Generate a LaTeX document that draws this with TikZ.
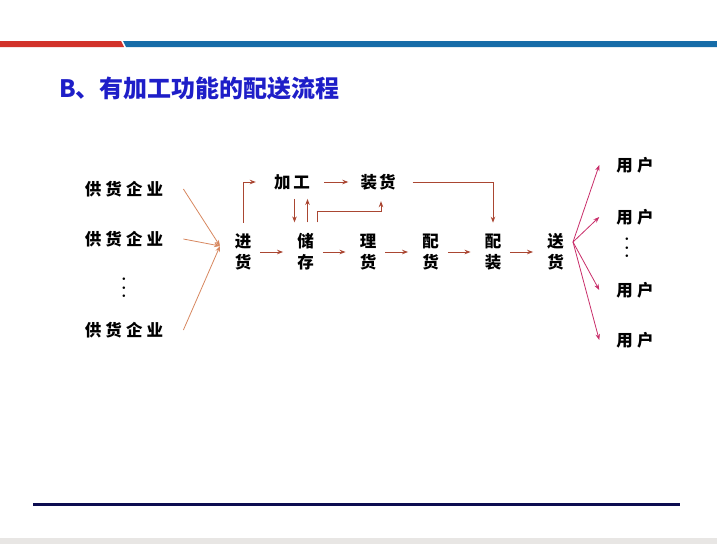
\documentclass[tikz,border=0pt]{standalone}
\usepackage{fontspec}
\usepackage{xcolor}
\usepackage{tikz}
\usetikzlibrary{arrows.meta, positioning}

\newfontfamily\cjk{Noto Sans CJK SC}
\newfontfamily\cjkwide[LetterSpace=25]{Noto Sans CJK SC}

\definecolor{barred}{RGB}{210,50,42}
\definecolor{barblue}{RGB}{22,108,168}
\definecolor{titleblue}{RGB}{30,30,200}
\definecolor{flowred}{RGB}{170,70,50}
\definecolor{inorange}{RGB}{215,135,95}
\definecolor{outpink}{RGB}{200,45,105}
\definecolor{footnavy}{RGB}{12,12,80}
\definecolor{footgray}{RGB}{232,230,228}

\begin{document}
\begin{tikzpicture}[x=1pt, y=-1pt, node distance=62.5pt]
        % Styles
        \tikzstyle{lbl} = [inner sep=2pt, align=center, font=\cjk\bfseries\fontsize{16.5}{21}\selectfont]
        \tikzstyle{wlbl} = [lbl, font=\cjkwide\bfseries\fontsize{16.5}{21}\selectfont]
        \tikzstyle{vdots} = [inner sep=0pt, align=center, font=\bfseries\fontsize{18}{8.5}\selectfont]
        \tikzstyle{arrow} = [-{Stealth[length=6pt,width=4.5pt]}, line width=0.9pt, draw=flowred, shorten <=7pt, shorten >=12pt]
        \tikzstyle{inarrow} = [-{Stealth[length=6pt,width=4.5pt]}, line width=0.8pt, draw=inorange]
        \tikzstyle{outarrow} = [-{Stealth[length=6pt,width=4.5pt]}, line width=0.8pt, draw=outpink]

        \useasboundingbox (0,0) rectangle (717,544);

        % Frame
        \fill[barred] (0,41) -- (121,41) -- (124,47) -- (0,47) -- cycle;
        \fill[barblue] (123,41) -- (717,41) -- (717,47) -- (126,47) -- cycle;
        \fill[footnavy] (33,503) rectangle (680,506);
        \fill[footgray] (0,538) rectangle (717,544);
        \node[anchor=west, inner sep=0pt, text=titleblue, font=\cjk\bfseries\fontsize{24}{24}\selectfont] (title) at (59,88) {B、有加工功能的配送流程};

        % Nodes
        \node[lbl] (jinhuo) at (243,252) {进\\货};
        \node[lbl, right of=jinhuo] (chucun) {储\\存};
        \node[lbl, right of=chucun] (lihuo) {理\\货};
        \node[lbl, right of=lihuo] (peihuo) {配\\货};
        \node[lbl, right of=peihuo] (peizhuang) {配\\装};
        \node[lbl, right of=peizhuang] (songhuo) {送\\货};
        \node[wlbl] (jiagong) at (292,182) {加\hspace{3pt}工};
        \node[wlbl] (zhuanghuo) at (378,182) {装\hspace{2pt}货};

        \node[wlbl] (gh1) at (124,189) {供货企业};
        \node[wlbl] (gh2) at (124,239) {供货企业};
        \node[vdots] (ghdots) at (124,288) {.\\.\\.};
        \node[wlbl] (gh3) at (124,330) {供货企业};

        \node[wlbl] (yh1) at (635,165) {用户};
        \node[wlbl] (yh2) at (635,217) {用户};
        \node[vdots] (yhdots) at (627,248) {.\\.\\.};
        \node[wlbl] (yh3) at (635,290) {用户};
        \node[wlbl] (yh4) at (635,340) {用户};

        \coordinate (rcv) at (220,246);
        \coordinate (fan) at (573,242);

        % Arrows
        \foreach \s in {gh1,gh2,gh3}
            \draw[inarrow] ([xshift=18pt]\s.east) -- (rcv);
        \foreach \u in {yh1,yh2,yh3,yh4}
            \draw[outarrow] (fan) -- ([xshift=-15pt]\u.west);

        \draw[arrow, shorten <=9pt, shorten >=16pt] (jinhuo.north) |- (jiagong.west);
        \draw[arrow] (jinhuo) -- (chucun);
        \draw[arrow] (chucun) -- (lihuo);
        \draw[arrow] (lihuo) -- (peihuo);
        \draw[arrow] (peihuo) -- (peizhuang);
        \draw[arrow] (peizhuang) -- (songhuo);
        \draw[arrow, shorten <=12pt, shorten >=10pt] (jiagong) -- (zhuanghuo);
        \draw[arrow, shorten <=7pt, shorten >=9pt] ([xshift=-11pt]chucun.north |- jiagong.south) -- ([xshift=-11pt]chucun.north);
        \draw[arrow, shorten <=9pt, shorten >=7pt] ([xshift=2pt]chucun.north) -- ([xshift=2pt]chucun.north |- jiagong.south);
        \draw[arrow, shorten <=9pt, shorten >=9pt] ([xshift=12pt]chucun.north) -- ++(0,-20) -| ([xshift=3pt]zhuanghuo.south);
        \draw[arrow, shorten <=15pt, shorten >=9pt] (zhuanghuo.east) -| (peizhuang.north);
    \end{tikzpicture}
\end{document}
